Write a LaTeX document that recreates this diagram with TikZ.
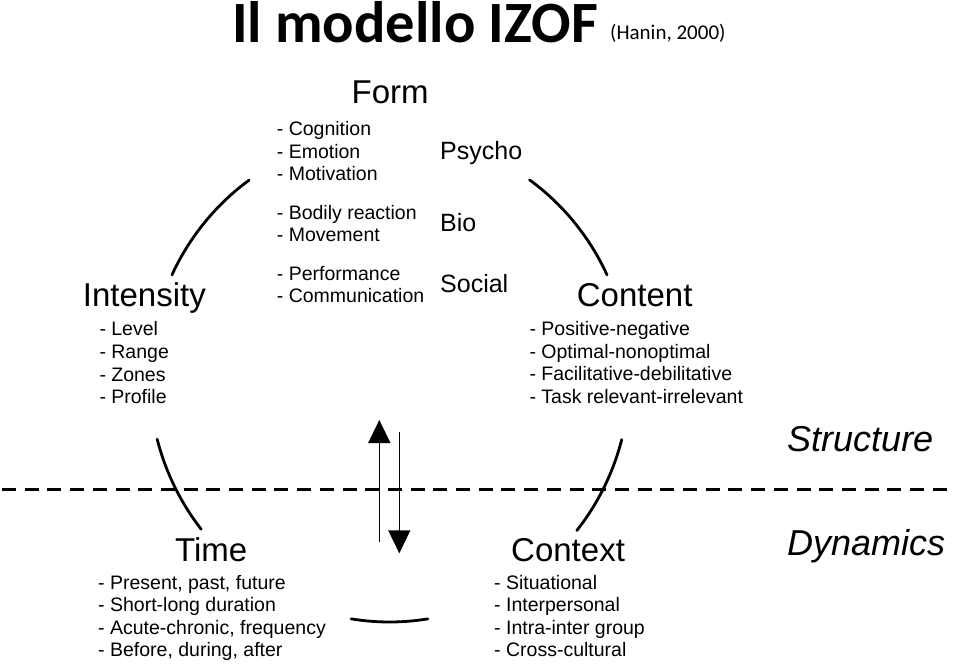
\documentclass[tikz,border=0pt]{standalone}
\usepackage{fontspec}
\setmainfont{Liberation Sans}
\newfontfamily\titlefont{Carlito}
\usetikzlibrary{arrows.meta}
\begin{document}
\begin{tikzpicture}[x=1pt,y=-1pt,
  txt/.style={anchor=base west, inner sep=0pt},
  item/.style={txt, font=\fontsize{19.5}{22}\selectfont},
  head/.style={txt, font=\fontsize{33}{36}\selectfont},
  sub/.style={txt, font=\fontsize{25}{28}\selectfont},
  dim/.style={txt, font=\fontsize{36}{39}\selectfont\itshape},
  arcline/.style={line width=2.8pt, line cap=round},
  arr/.style={line width=1.5pt, -{Triangle[width=22pt,length=23pt]}}]
\useasboundingbox (0,0) rectangle (960,666);
% title
\node[txt, font=\titlefont\bfseries\fontsize{58.5}{61}\selectfont] (title) at (232,43) {Il modello IZOF};
\node[txt, font=\titlefont\fontsize{21}{24}\selectfont] (cite) at (610,40) {(Hanin, 2000)};
% Form
\node[head] (form) at (351.5,103.3) {Form};
\node[item] (f1) at (276.7,135.7) {- Cognition};
\node[item] (f2) at (276.7,158.3) {- Emotion};
\node[item] (f3) at (276.7,180.7) {- Motivation};
\node[item] (f4) at (276.7,219) {- Bodily reaction};
\node[item] (f5) at (276.7,241) {- Movement};
\node[item] (f6) at (276.7,280) {- Performance};
\node[item] (f7) at (276.7,302.3) {- Communication};
\node[sub] (psycho) at (440,159.3) {Psycho};
\node[sub] (bio) at (440,231.7) {Bio};
\node[sub] (social) at (440,292.7) {Social};
% Intensity
\node[head] (intensity) at (82.7,306) {Intensity};
\node[item] (i1) at (99.3,335.7) {- Level};
\node[item] (i2) at (99.3,358.5) {- Range};
\node[item] (i3) at (99.3,381) {- Zones};
\node[item] (i4) at (99.3,403.3) {- Profile};
% Content
\node[head] (content) at (576.7,306) {Content};
\node[item] (c1) at (529.3,335.7) {- Positive-negative};
\node[item] (c2) at (529.3,358.3) {- Optimal-nonoptimal};
\node[item] (c3) at (529.3,380.7) {- Facilitative-debilitative};
\node[item] (c4) at (529.3,403.3) {- Task relevant-irrelevant};
% Structure / Dynamics
\node[dim] (structure) at (787,451) {Structure};
\node[dim] (dynamics) at (787,555) {Dynamics};
% Time
\node[head] (time) at (175,561.5) {Time};
\node[item] (t1) at (98,589) {- Present, past, future};
\node[item] (t2) at (98,611.5) {- Short-long duration};
\node[item] (t3) at (98,634) {- Acute-chronic, frequency};
\node[item] (t4) at (98,656.5) {- Before, during, after};
% Context
\node[head] (context) at (511,561.5) {Context};
\node[item] (x1) at (494,589) {- Situational};
\node[item] (x2) at (494,611.5) {- Interpersonal};
\node[item] (x3) at (494,634) {- Intra-inter group};
\node[item] (x4) at (494,656.5) {- Cross-cultural};
% circle arcs
\coordinate (c) at (389.5,378);
\draw[arcline] (c) ++(125.8:240pt and 244pt) arc[start angle=125.8, end angle=155, x radius=240pt, y radius=244pt];
\draw[arcline] (c) ++(25:240pt and 244pt) arc[start angle=25, end angle=54.3, x radius=240pt, y radius=244pt];
\draw[arcline] (c) ++(194.5:240pt and 244pt) arc[start angle=194.5, end angle=218.3, x radius=240pt, y radius=244pt];
\draw[arcline] (c) ++(-38.7:240pt and 244pt) arc[start angle=-38.7, end angle=-14.6, x radius=240pt, y radius=244pt];
\draw[arcline] (c) ++(260.8:240pt and 244pt) arc[start angle=260.8, end angle=279.2, x radius=240pt, y radius=244pt];
% dashed separator
\coordinate (dl) at (2,489.3);
\coordinate (dr) at (955,489.3);
\draw[line width=3pt, dash pattern=on 14pt off 8.7pt] (dl) -- (dr);
% arrows
\coordinate (upS) at (379.3,541.7);
\coordinate (upE) at (379.3,420);
\coordinate (dnS) at (399.3,431.7);
\coordinate (dnE) at (399.3,553.3);
\draw[arr] (upS) -- (upE);
\draw[arr] (dnS) -- (dnE);
\end{tikzpicture}
\end{document}
